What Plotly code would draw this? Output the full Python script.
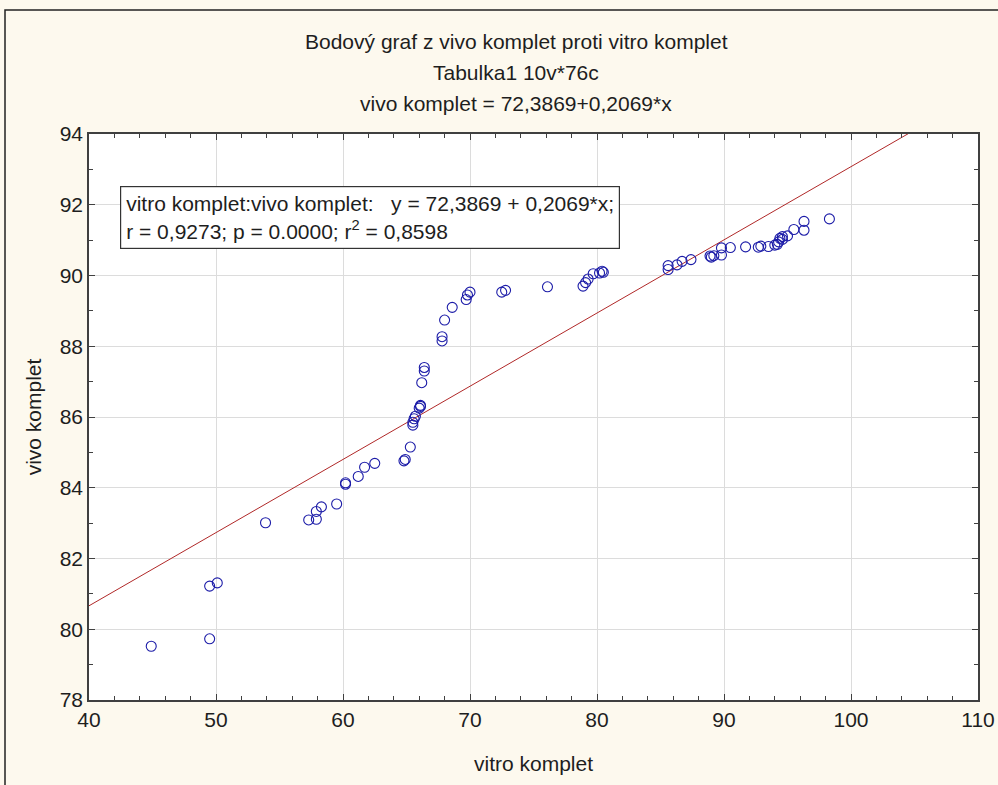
import numpy as np
import plotly.graph_objects as go

vitro = [44.9, 49.5, 49.5, 50.1, 53.9, 57.3, 57.9, 57.9, 58.3, 59.5,
         60.2, 60.2, 61.2, 61.7, 62.5, 64.8, 64.9, 65.3, 65.5, 65.5,
         65.6, 65.7, 66.0, 66.1, 66.1, 66.2, 66.4, 66.4, 67.8, 67.8,
         68.0, 68.6, 69.7, 69.8, 70.0, 72.5, 72.8, 76.1, 78.9, 79.1,
         79.3, 79.7, 80.2, 80.4, 80.5, 85.6, 85.6, 86.3, 86.7, 87.4,
         88.9, 89.0, 89.2, 89.8, 89.8, 90.5, 91.7, 92.7, 92.9, 93.5,
         94.0, 94.2, 94.3, 94.4, 94.6, 94.6, 95.0, 95.5, 96.3, 96.3,
         98.3]
vivo = [79.52, 79.73, 81.22, 81.31, 83.01, 83.09, 83.11, 83.33, 83.46, 83.54,
        84.10, 84.14, 84.32, 84.58, 84.69, 84.76, 84.80, 85.15, 85.77, 85.85,
        85.95, 86.02, 86.25, 86.30, 86.33, 86.97, 87.30, 87.40, 88.15, 88.27,
        88.74, 89.10, 89.32, 89.45, 89.53, 89.53, 89.58, 89.68, 89.70, 89.80,
        89.90, 90.05, 90.07, 90.12, 90.09, 90.17, 90.28, 90.30, 90.40, 90.45,
        90.55, 90.52, 90.56, 90.58, 90.78, 90.79, 90.81, 90.80, 90.83, 90.82,
        90.86, 90.88, 90.95, 91.05, 91.10, 91.02, 91.12, 91.30, 91.28, 91.53,
        91.60]

intercept = 72.3869
slope = 0.2069

x_ticks = [40, 50, 60, 70, 80, 90, 100, 110]
y_ticks = [78, 80, 82, 84, 86, 88, 90, 92, 94]

line_x = np.array([40.0, 110.0])
line_y = intercept + slope * line_x

FONT = "Liberation Sans, Arial, sans-serif"
TXT = "#1e1e1e"
AXIS_COL = "#404040"

# pixel -> paper helpers (plot area spans x 89..978, y 134..700)
def px(x):
    return (x - 89) / 889

def py(y):
    return (700 - y) / 566

fig = go.Figure()
fig.add_trace(go.Scatter(x=line_x, y=line_y, mode="lines",
                         line=dict(color="#B02828", width=1), hoverinfo="skip"))
fig.add_trace(go.Scatter(x=vitro, y=vivo, mode="markers",
                         marker=dict(symbol="circle-open", size=10,
                                     color="#1c1ca8", line=dict(width=1.1, color="#1c1ca8"))))

axis_common = dict(showline=True, linecolor=AXIS_COL, linewidth=1.5, mirror="ticks",
                   ticks="inside", ticklen=6, tickcolor=AXIS_COL, tickwidth=1,
                   showgrid=True, gridcolor="#dcdcdc", gridwidth=1, zeroline=False,
                   automargin=False, ticklabeloverflow="allow",
                   tickfont=dict(family=FONT, size=21, color=TXT),
                   title_font=dict(family=FONT, size=21, color=TXT))

fig.update_xaxes(range=[40, 110], tickvals=x_ticks, ticktext=[str(v) for v in x_ticks],
                 minor=dict(dtick=2, ticks="inside", ticklen=4, tickcolor=AXIS_COL, showgrid=False),
                 title_text="vitro komplet", title_standoff=26, **axis_common)
fig.update_yaxes(range=[78, 94], tickvals=y_ticks, ticktext=[str(v) for v in y_ticks],
                 minor=dict(dtick=1, ticks="inside", ticklen=4, tickcolor=AXIS_COL, showgrid=False),
                 title_text="vivo komplet", title_standoff=12, **axis_common)

titles = ["Bodový graf z vivo komplet proti vitro komplet",
          "Tabulka1 10v*76c",
          "vivo komplet = 72,3869+0,2069*x"]
title_y_px = [42, 73, 103]
for t, ty in zip(titles, title_y_px):
    fig.add_annotation(text=t, xref="paper", yref="paper",
                       x=px(516), y=py(ty),
                       xanchor="center", yanchor="middle", showarrow=False,
                       font=dict(family=FONT, size=21, color=TXT))

fig.add_annotation(text="vitro komplet:vivo komplet:   y = 72,3869 + 0,2069*x;<br>"
                        "r = 0,9273; p = 0.0000; r<sup>2</sup> = 0,8598",
                   xref="paper", yref="paper",
                   x=px(120), y=py(186),
                   xanchor="left", yanchor="top", align="left", showarrow=False,
                   bgcolor="white", bordercolor="#333333", borderwidth=1.2, borderpad=5,
                   font=dict(family=FONT, size=21, color=TXT))

# outer frame (left and top edges visible)
fig.add_shape(type="rect", xref="paper", yref="paper",
              x0=px(5), x1=px(1030), y0=py(820), y1=py(10),
              line=dict(color="#222222", width=1.5), layer="below")

fig.update_layout(width=998, height=785,
                  margin=dict(l=89, r=20, t=134, b=85),
                  paper_bgcolor="#FDF9EE", plot_bgcolor="white",
                  showlegend=False)

fig.write_html("out.html", config={"displayModeBar": False},
               post_script="document.body.style.margin='0px';document.body.style.overflow='hidden';")
